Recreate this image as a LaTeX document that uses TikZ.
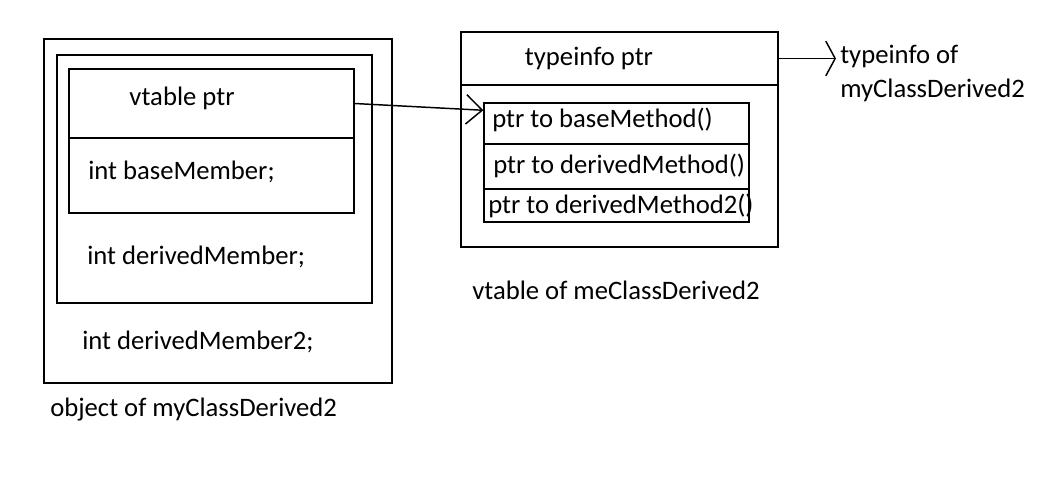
\documentclass[tikz,border=0pt]{standalone}
\usepackage{fontspec}
\setmainfont{Carlito}
\usetikzlibrary{arrows.meta,fit}
\tikzset{
  box/.style={draw, line width=1.1pt, inner sep=0pt},
  lbl/.style={inner sep=0pt, font=\fontsize{20}{25.5}\selectfont},
  ptrarrow/.style={line width=1.1pt, -{Straight Barb[length=12pt,width=22pt]}},
  infoarrow/.style={line width=1.1pt, -{Straight Barb[length=7pt,width=26pt]}},
}
\begin{document}
\begin{tikzpicture}[x=0.75pt, y=-0.75pt]
\useasboundingbox (0,0) rectangle (1046,486);
% object of the class
\node[box, fit={(44,39) (392,383)}] (obj) {};
\node[box, fit={(57,55) (372,303)}] (derived) {};
\node[box, fit={(69,69) (354,138)}] (vptr) {};
\node[box, fit={(69,138) (354,213)}] (basemem) {};
\node[lbl] (vptrtxt) at (182,98) {vtable ptr};
\node[lbl, anchor=west] (basetxt) at (88,172) {int baseMember;};
\node[lbl, anchor=west] (dertxt) at (87,257) {int derivedMember;};
\node[lbl, anchor=west] (der2txt) at (82,342) {int derivedMember2;};
\node[lbl, anchor=west] (objcap) at (50,410) {object of myClassDerived2};
% vtable
\node[box, fit={(461,32) (778,247)}] (vtbl) {};
\node[box, fit={(461,32) (778,85)}] (tiptr) {};
\node[box, fit={(484,103) (749,144)}] (row1) {};
\node[box, fit={(484,144) (749,189)}] (row2) {};
\node[box, fit={(484,189) (749,222)}] (row3) {};
\node[lbl] (tiptrtxt) at (589,58) {typeinfo ptr};
\node[lbl, anchor=west] (row1txt) at (492,120) {ptr to baseMethod()};
\node[lbl, anchor=west] (row2txt) at (493,166) {ptr to derivedMethod()};
\node[lbl, anchor=west] (row3txt) at (488,206) {ptr to derivedMethod2()};
\node[lbl, anchor=west] (vtblcap) at (472,290) {vtable of meClassDerived2};
\node[lbl, anchor=north west, align=left] (tinfo) at (840,45) {typeinfo of\\myClassDerived2};
% pointers
\draw[ptrarrow] (vptr.east) -- ([yshift=-6pt]row1.north west);
\draw[infoarrow] (tiptr.east) -- ([xshift=-3pt]tiptr.east -| tinfo.west);
\end{tikzpicture}
\end{document}
